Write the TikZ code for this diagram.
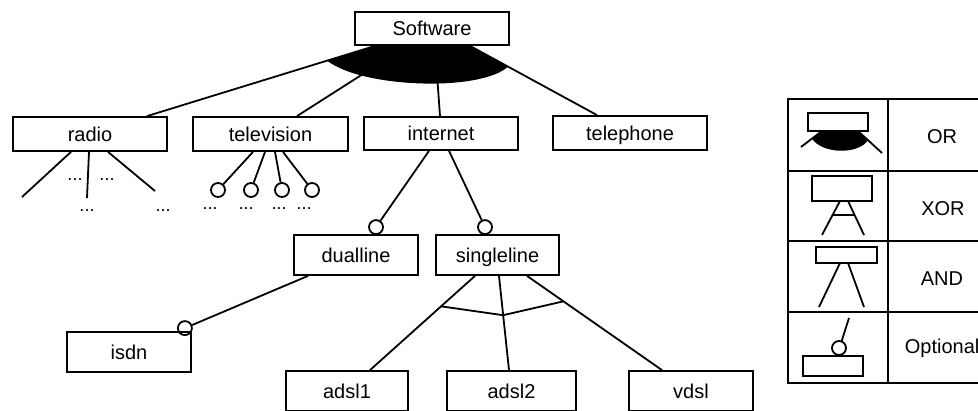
\documentclass[tikz,border=0pt]{standalone}
\usepackage{fontspec}
\setmainfont{Liberation Sans}
\usetikzlibrary{calc}
\begin{document}
\begin{tikzpicture}[x=1pt,y=-1pt,line width=1.8pt,
  feature/.style={draw,rectangle,inner sep=0pt,text height=14.5pt,text depth=0pt,
    font=\fontsize{20}{24}\selectfont},
  opt/.style={draw,circle,minimum size=14pt,inner sep=0pt},
  dots/.style={anchor=base,inner sep=0pt,font=\fontsize{18}{20}\selectfont},
  lbl/.style={anchor=base,inner sep=0pt,font=\fontsize{20}{24}\selectfont}
]
\useasboundingbox (0,0) rectangle (978,410);

% ---------- features ----------
\node[feature,minimum width=154pt,minimum height=33pt] (sw)    at (432,28.5)  {Software};
\node[feature,minimum width=154pt,minimum height=34pt] (radio) at (90,134)    {radio};
\node[feature,minimum width=155pt,minimum height=34pt] (tv)    at (270.5,134) {television};
\node[feature,minimum width=154pt,minimum height=33pt] (inet)  at (441,133.5) {internet};
\node[feature,minimum width=154pt,minimum height=34pt] (tel)   at (630,133)   {telephone};
\node[feature,minimum width=124pt,minimum height=40pt] (dual)  at (356,255)   {dualline};
\node[feature,minimum width=123pt,minimum height=40pt] (single) at (497.5,255) {singleline};
\node[feature,minimum width=124pt,minimum height=40pt] (isdn)  at (129,352)   {isdn};
\node[feature,minimum width=122pt,minimum height=40pt] (adslA) at (347,391)   {adsl1};
\node[feature,minimum width=129pt,minimum height=40pt] (adslB) at (511.5,391) {adsl2};
\node[feature,minimum width=124pt,minimum height=40pt] (vdsl)  at (691,391)   {vdsl};

% ---------- OR group below Software ----------
\draw ([xshift=-57pt]sw.south) -- ([xshift=57pt]radio.north);
\draw ([xshift=-25pt]sw.south) -- ([xshift=26.5pt]tv.north);
\draw ([xshift=3pt]sw.south)   -- ([xshift=-1pt]inet.north);
\draw ([xshift=38pt]sw.south)  -- ([xshift=-33pt]tel.north);
\coordinate (orL) at ($([xshift=-57pt]sw.south)!0.21!([xshift=57pt]radio.north)$);
\coordinate (orR) at ($([xshift=38pt]sw.south)!0.30!([xshift=-33pt]tel.north)$);
\fill ([xshift=-57pt]sw.south) -- (orL) .. controls (362,88) and (480,92) .. (orR)
      -- ([xshift=38pt]sw.south) -- cycle;

% ---------- radio children (elided) ----------
\coordinate (r1) at (22,197);
\coordinate (r2) at (87,198);
\coordinate (r3) at (155,191);
\draw ([xshift=-19pt]radio.south) -- (r1);
\draw ([xshift=-1pt]radio.south)  -- (r2);
\draw ([xshift=18pt]radio.south)  -- (r3);
\node[dots] (rd1) at (75,180)  {...};
\node[dots] (rd2) at (107,180) {...};
\node[dots] (rd3) at (87,211)  {...};
\node[dots] (rd4) at (163,211) {...};

% ---------- television children (optional, elided) ----------
\node[opt] (t1) at (218,190) {};
\node[opt] (t2) at (251,190) {};
\node[opt] (t3) at (282,190) {};
\node[opt] (t4) at (312,190) {};
\draw ([xshift=-17.5pt]tv.south) -- (t1);
\draw ([xshift=-5.5pt]tv.south)  -- (t2);
\draw ([xshift=4.5pt]tv.south)   -- (t3);
\draw ([xshift=12.5pt]tv.south)  -- (t4);
\node[dots] (td1) at (210,209) {...};
\node[dots] (td2) at (246,209) {...};
\node[dots] (td3) at (279,209) {...};
\node[dots] (td4) at (304,209) {...};

% ---------- internet children (optional) ----------
\node[opt] (cd) at ([xshift=20pt,yshift=7pt]dual.north) {};
\node[opt] (cs) at ([xshift=-12.5pt,yshift=7pt]single.north) {};
\draw ([xshift=-12pt]inet.south) -- (cd);
\draw ([xshift=8pt]inet.south)   -- (cs);

% ---------- dualline child (optional) ----------
\node[opt] (ci) at ([xshift=-7pt,yshift=3pt]isdn.north east) {};
\draw ([xshift=-48pt]dual.south) -- (ci);

% ---------- singleline children (XOR) ----------
\coordinate (sa) at ([xshift=-22.5pt]single.south);
\coordinate (sb) at ([xshift=1.5pt]single.south);
\coordinate (sc) at ([xshift=29.5pt]single.south);
\coordinate (ea) at ([xshift=23pt]adslA.north);
\coordinate (eb) at ([xshift=-2.5pt]adslB.north);
\coordinate (ec) at ([xshift=-29pt]vdsl.north);
\draw (sa) -- (ea);
\draw (sb) -- (eb);
\draw (sc) -- (ec);
\draw ($(sa)!0.323!(ea)$) -- ($(sb)!0.417!(eb)$) -- ($(sc)!0.27!(ec)$);

% ---------- legend ----------
\draw (788,99) rectangle (1000,383);
\draw (888,99) -- (888,383);
\draw (788,171) -- (1000,171);
\draw (788,241) -- (1000,241);
\draw (788,312) -- (1000,312);

% OR icon
\fill (822,131) -- (812,138.6) .. controls (822,154) and (858,155) .. (868,140.2)
      -- (858,131) -- cycle;
\draw (801,147) -- (822,131);
\draw (858,131) -- (882,153);
\draw[fill=white] (808,113) rectangle (868,131);
\node[lbl] at (942,143.5) {OR};

% XOR icon
\draw (812,176) rectangle (872,201);
\draw (840,201) -- (822,235);
\draw (848,201) -- (864,235);
\draw (832.6,215) -- (854.6,215);
\node[lbl] at (943,215) {XOR};

% AND icon
\draw (816,247) rectangle (877,263);
\draw (840,263) -- (819,307);
\draw (848,263) -- (864,307);
\node[lbl] at (942,285) {AND};

% Optional icon
\draw (803,356) rectangle (863,376);
\draw (839,348) circle (7);
\draw (849,318) -- (841.5,341.5);
\node[lbl,anchor=base west] at (904,353) {Optional};
\end{tikzpicture}
\end{document}
